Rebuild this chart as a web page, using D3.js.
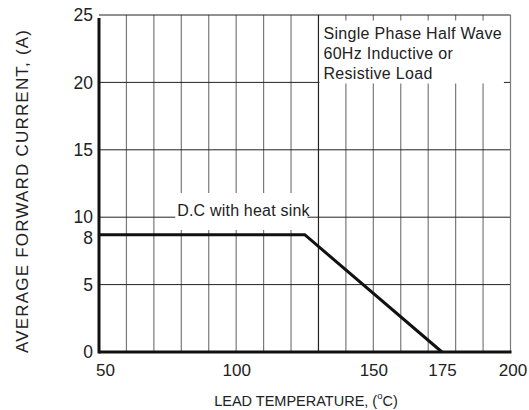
<!DOCTYPE html>
<html>
<head>
<meta charset="utf-8">
<script src="https://cdn.jsdelivr.net/npm/d3@7"></script>
<style>
  body { margin: 0; background: #fff; }
  svg { display: block; font-family: "Liberation Sans", Arial, sans-serif; }
</style>
</head>
<body>
<svg id="chart" width="529" height="410"></svg>
<script>
// derating curve, D.C with heat sink
const temps = [50, 125, 175];
const currents = [8.7, 8.7, 0];

const xTicks = [50, 100, 150, 175, 200];
const xGrid = [60, 70, 80, 90, 100, 110, 120, 130, 140, 150, 160, 170, 180, 190];
const yTickValues = [0, 5, 8.45, 10, 15, 20, 25];
const yTickLabels = ["0", "5", "8", "10", "15", "20", "25"];
const yGrid = [5, 10, 15, 20];

const noteLines = ["Single Phase Half Wave", "60Hz Inductive or", "Resistive Load"];
const curveLabel = "D.C with heat sink";

const margin = { top: 15, right: 18.5, bottom: 58, left: 99 };
const width = 529 - margin.left - margin.right;
const height = 410 - margin.top - margin.bottom;

const svg = d3.select("#chart");
const g = svg.append("g").attr("transform", `translate(${margin.left},${margin.top})`);

const x = d3.scaleLinear().domain([50, 200]).range([0, width]);
const y = d3.scaleLinear().domain([0, 25]).range([height, 0]);

// grid
g.selectAll(".vgrid")
    .data(xGrid)
    .join("line")
    .attr("x1", d => x(d)).attr("x2", d => x(d))
    .attr("y1", 0).attr("y2", height)
    .attr("stroke", d => d === 130 ? "#222" : "#7a7a7a")
    .attr("stroke-width", 1.2);

g.selectAll(".hgrid")
    .data(yGrid)
    .join("line")
    .attr("x1", 0).attr("x2", width)
    .attr("y1", d => y(d)).attr("y2", d => y(d))
    .attr("stroke", "#222")
    .attr("stroke-width", 1);

// frame
g.append("line").attr("x1", 0).attr("x2", width).attr("y1", y(25)).attr("y2", y(25))
    .attr("stroke", "#222").attr("stroke-width", 1);
g.append("line").attr("x1", width).attr("x2", width).attr("y1", 0).attr("y2", height)
    .attr("stroke", "#7a7a7a").attr("stroke-width", 1.2);

// note box (white background hides grid)
const note = g.append("g").attr("transform", `translate(${x(130) + 1},0)`);
note.append("rect")
    .attr("x", 0).attr("y", 5.5)
    .attr("width", x(197.6) - x(130) - 1).attr("height", 63)
    .attr("fill", "#fff");
note.selectAll("text")
    .data(noteLines)
    .join("text")
    .attr("x", 4)
    .attr("y", (d, i) => 24 + i * 20)
    .attr("font-size", 16)
    .attr("letter-spacing", 0.3)
    .attr("fill", "#222")
    .text(d => d);

// curve label
const lab = g.append("g");
lab.append("rect")
    .attr("x", x(77.8)).attr("y", 178)
    .attr("width", x(126) - x(77.8)).attr("height", 37)
    .attr("fill", "#fff");
lab.append("text")
    .attr("x", x(78.5)).attr("y", 201)
    .attr("font-size", 16)
    .attr("letter-spacing", 0.2)
    .attr("fill", "#222")
    .text(curveLabel);

// axes lines
g.append("line").attr("x1", 0).attr("x2", 0).attr("y1", 3).attr("y2", height + 1.5)
    .attr("stroke", "#111").attr("stroke-width", 3);
g.append("line").attr("x1", 0).attr("x2", width + 1).attr("y1", height).attr("y2", height)
    .attr("stroke", "#111").attr("stroke-width", 3);

// curve
const line = d3.line().x(d => x(d[0])).y(d => y(d[1]));
g.append("path")
    .datum(temps.map((t, i) => [t, currents[i]]))
    .attr("d", line)
    .attr("fill", "none")
    .attr("stroke", "#111")
    .attr("stroke-width", 3);

// tick labels
const yAxis = g.append("g")
    .call(d3.axisLeft(y).tickValues(yTickValues)
        .tickFormat((d, i) => yTickLabels[i]).tickSize(0).tickPadding(6));
yAxis.select(".domain").remove();
yAxis.selectAll("text")
    .attr("font-size", 17.5)
    .attr("font-family", "Liberation Sans, Arial, sans-serif")
    .attr("fill", "#222");

const xAxis = g.append("g")
    .attr("transform", `translate(0,${height})`)
    .call(d3.axisBottom(x).tickValues(xTicks).tickFormat(d3.format("d")).tickSize(0).tickPadding(12));
xAxis.select(".domain").remove();
xAxis.selectAll("text")
    .attr("font-size", 17)
    .attr("font-family", "Liberation Sans, Arial, sans-serif")
    .attr("fill", "#222")
    .attr("dx", d => d === 50 ? 6 : (d === 200 ? 2 : 0));

// axis titles
const xTitle = svg.append("text")
    .attr("x", 306).attr("y", 406)
    .attr("text-anchor", "middle")
    .attr("font-size", 14.5)
    .attr("fill", "#222");
xTitle.append("tspan").text("LEAD TEMPERATURE, (");
xTitle.append("tspan").attr("font-size", 9.5).attr("dy", -7).text("o");
xTitle.append("tspan").attr("dy", 7).text("C)");

svg.append("text")
    .attr("transform", "translate(27.5,191.5) rotate(-90)")
    .attr("text-anchor", "middle")
    .attr("font-size", 17)
    .attr("textLength", 323).attr("lengthAdjust", "spacing")
    .attr("fill", "#222")
    .text("AVERAGE FORWARD CURRENT, (A)");
</script>
</body>
</html>
